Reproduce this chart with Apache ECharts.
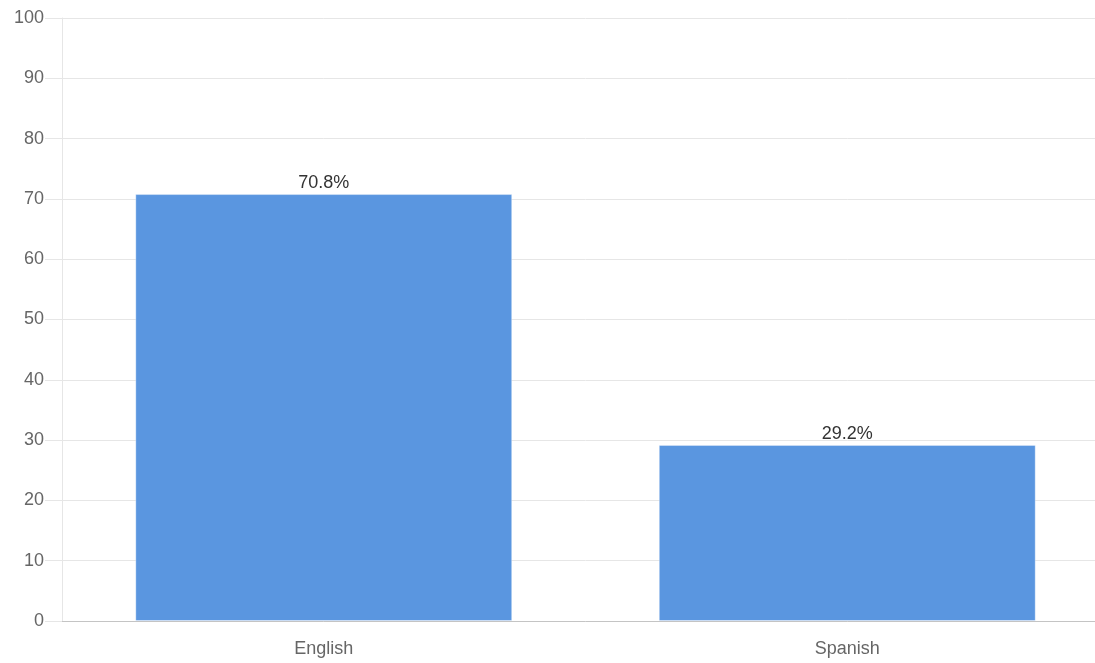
<!DOCTYPE html>
<html>
<head>
<meta charset="utf-8">
<script src="https://cdn.jsdelivr.net/npm/echarts@6/dist/echarts.min.js"></script>
<style>
html,body{margin:0;padding:0;background:#fff;overflow:hidden;width:1095px;height:663px;}
#chart{width:1109px;height:663px;}
</style>
</head>
<body>
<div id="chart"></div>
<script>
const categories = ["English", "Spanish"];
const percentages = [70.8, 29.2];
const yTicks = [0, 10, 20, 30, 40, 50, 60, 70, 80, 90, 100];

const FONT = 'Arial, "Liberation Sans", sans-serif';
const chart = echarts.init(document.getElementById('chart'), null, {renderer: 'canvas'});
chart.setOption({
  animation: false,
  grid: {left: 62, right: 0, top: 18, bottom: 42, containLabel: false},
  xAxis: {
    type: 'category',
    data: categories,
    axisLine: {show: true, lineStyle: {color: '#c4c4c4', width: 1}},
    axisTick: {show: false},
    axisLabel: {color: '#666', fontSize: 18, fontFamily: FONT, margin: 19},
    splitLine: {show: false}
  },
  yAxis: {
    type: 'value',
    min: yTicks[0],
    max: yTicks[yTicks.length - 1],
    interval: 10,
    axisLine: {show: true, lineStyle: {color: '#e6e6e6', width: 1}},
    axisTick: {show: true, length: 17, lineStyle: {color: '#e6e6e6'}},
    axisLabel: {color: '#666', fontSize: 18, fontFamily: FONT, margin: 18},
    splitLine: {show: true, lineStyle: {color: '#e6e6e6', width: 1}}
  },
  series: [{
    type: 'bar',
    data: percentages,
    barCategoryGap: '28%',
    itemStyle: {color: '#5a96e0', borderColor: 'rgba(255,255,255,0.35)', borderWidth: 1},
    label: {
      show: true,
      position: 'top',
      distance: 2,
      color: '#333',
      fontSize: 18,
      fontFamily: FONT,
      formatter: p => p.value.toFixed(1) + '%'
    }
  }]
});
</script>
</body>
</html>
